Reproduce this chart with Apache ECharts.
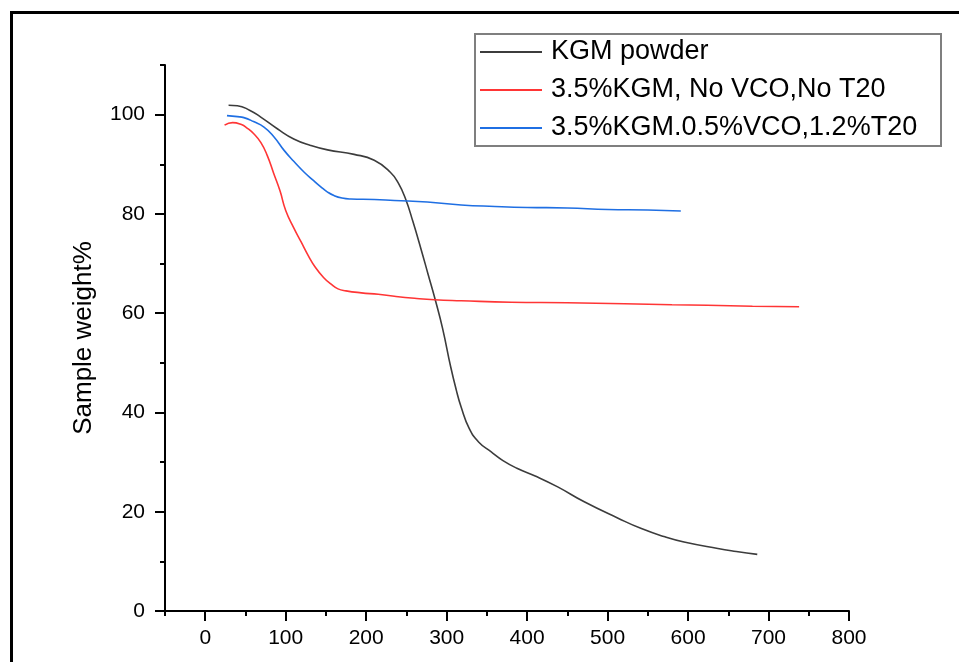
<!DOCTYPE html>
<html>
<head>
    <meta charset="UTF-8">
    <title>TGA curves</title>
    <style>
        html, body { margin: 0; padding: 0; background: #fff; }
        #chart { width: 959px; height: 662px; }
    </style>
</head>
<body>
    <div id="chart"></div>
    <script src="https://cdn.jsdelivr.net/npm/echarts@6/dist/echarts.min.js"></script>
    <script>
        // temperature (x) and sample weight % (y)
        var kgmTemp = [29, 40, 55, 69, 90, 110, 131, 152, 185, 210, 230, 240, 249, 258, 268, 277, 286, 295, 305, 312, 318, 328, 340, 355, 370, 388, 410, 438, 471, 513, 542, 570, 595, 637, 660, 686];
        var kgmWeight = [101.9, 101.8, 100.9, 99.5, 97.1, 95.1, 93.8, 92.9, 92.0, 90.8, 88.4, 86.2, 83.0, 78.5, 73.0, 67.8, 62.6, 56.9, 49.2, 44.5, 41.1, 36.8, 34.0, 32.1, 30.3, 28.7, 27.2, 25.0, 22.0, 18.7, 16.6, 15.0, 13.9, 12.6, 12.0, 11.4];

        var noVcoTemp = [24, 34, 45, 52, 60, 69, 77, 85, 93, 100, 110, 119, 128, 137, 147, 156, 165, 175, 194, 215, 235, 260, 285, 318, 380, 450, 521, 580, 624, 680, 738];
        var noVcoWeight = [97.9, 98.4, 98.0, 97.3, 96.2, 94.4, 91.8, 88.2, 84.6, 80.7, 77.2, 74.4, 71.6, 69.2, 67.2, 65.9, 64.9, 64.5, 64.1, 63.8, 63.4, 63.0, 62.7, 62.5, 62.2, 62.1, 61.9, 61.7, 61.6, 61.4, 61.3];

        var vcoTemp = [27, 40, 48, 60, 73, 85, 98, 110, 123, 134, 144, 152, 160, 170, 181, 210, 235, 276, 318, 360, 400, 450, 500, 550, 591];
        var vcoWeight = [99.8, 99.6, 99.4, 98.6, 97.5, 95.6, 92.8, 90.6, 88.4, 86.8, 85.4, 84.4, 83.7, 83.2, 83.0, 82.9, 82.7, 82.4, 81.8, 81.5, 81.3, 81.2, 80.9, 80.8, 80.6];

        var seriesNames = ['KGM powder', '3.5%KGM, No VCO,No T20', '3.5%KGM.0.5%VCO,1.2%T20'];

        function pairs(xs, ys) {
            var out = [];
            for (var i = 0; i < xs.length; i++) {
                out.push([xs[i], ys[i]]);
            }
            return out;
        }

        var font = 'Liberation Sans, Arial, sans-serif';
        var axisBlack = { color: '#000', width: 2 };

        // grid 0 holds the data and the short ticks, grids 1 and 2 only carry the long ticks + labels
        var gTop = 65, gBottom = 51, gLeft = 165, gRight = 110;
        var plotW = 959 - gLeft - gRight;
        var plotH = 662 - gTop - gBottom;

        var myChart = echarts.init(document.getElementById('chart'));

        function lineSeries(name, color, data) {
            return {
                name: name,
                type: 'line',
                xAxisIndex: 0,
                yAxisIndex: 0,
                symbol: 'none',
                smooth: 0.5,
                lineStyle: { color: color, width: 1.6 },
                itemStyle: { color: color },
                data: data
            };
        }

        myChart.setOption({
            animation: false,
            textStyle: { fontFamily: font },
            graphic: [{
                type: 'rect',
                silent: true,
                z: -10,
                shape: { x: 11.5, y: 12.5, width: 1200, height: 1000 },
                style: { fill: 'none', stroke: '#000', lineWidth: 3 }
            }],
            grid: [
                { left: gLeft, right: gRight, top: gTop, bottom: gBottom },
                { left: gLeft + plotW * 50 / 850, right: gRight, top: gTop, bottom: gBottom },
                { left: gLeft, right: gRight, top: gTop + plotH * 10 / 110, bottom: gBottom }
            ],
            legend: {
                orient: 'vertical',
                left: 475,
                top: 34,
                padding: [3, 8, 3, 5],
                icon: 'rect',
                itemWidth: 62,
                itemHeight: 2,
                itemGap: 8,
                borderColor: '#7f7f7f',
                borderWidth: 2,
                textStyle: {
                    fontFamily: font,
                    fontSize: 27,
                    color: '#000',
                    lineHeight: 30,
                    width: 382,
                    padding: [0, 0, 0, 4]
                },
                data: seriesNames
            },
            xAxis: [{
                gridIndex: 0,
                type: 'value',
                min: -50,
                max: 800,
                interval: 50,
                axisLine: { onZero: false, lineStyle: axisBlack },
                axisTick: { length: 5, lineStyle: axisBlack },
                axisLabel: { show: false },
                splitLine: { show: false }
            }, {
                gridIndex: 1,
                type: 'value',
                min: 0,
                max: 800,
                interval: 100,
                axisLine: { show: false, onZero: false },
                axisTick: { length: 10, lineStyle: axisBlack },
                axisLabel: { margin: 17, fontSize: 21, color: '#000', fontFamily: font },
                splitLine: { show: false }
            }, {
                gridIndex: 2,
                type: 'value',
                show: false,
                min: -50,
                max: 800
            }],
            yAxis: [{
                gridIndex: 0,
                type: 'value',
                min: 0,
                max: 110,
                interval: 10,
                name: 'Sample weight%',
                nameLocation: 'middle',
                nameGap: 68,
                nameTextStyle: { fontSize: 26, color: '#000', fontFamily: font },
                axisLine: { show: true, onZero: false, lineStyle: axisBlack },
                axisTick: { show: true, length: 5, lineStyle: axisBlack },
                axisLabel: { show: false },
                splitLine: { show: false }
            }, {
                gridIndex: 1,
                type: 'value',
                show: false,
                min: 0,
                max: 110
            }, {
                gridIndex: 2,
                type: 'value',
                min: 0,
                max: 100,
                interval: 20,
                axisLine: { show: false, onZero: false },
                axisTick: { show: true, length: 10, lineStyle: axisBlack },
                axisLabel: { margin: 20, fontSize: 21, color: '#000', fontFamily: font },
                splitLine: { show: false }
            }],
            series: [
                lineSeries(seriesNames[0], '#3c3c3c', pairs(kgmTemp, kgmWeight)),
                lineSeries(seriesNames[1], '#ff3535', pairs(noVcoTemp, noVcoWeight)),
                lineSeries(seriesNames[2], '#1f6fe3', pairs(vcoTemp, vcoWeight))
            ]
        });
    </script>
</body>
</html>
